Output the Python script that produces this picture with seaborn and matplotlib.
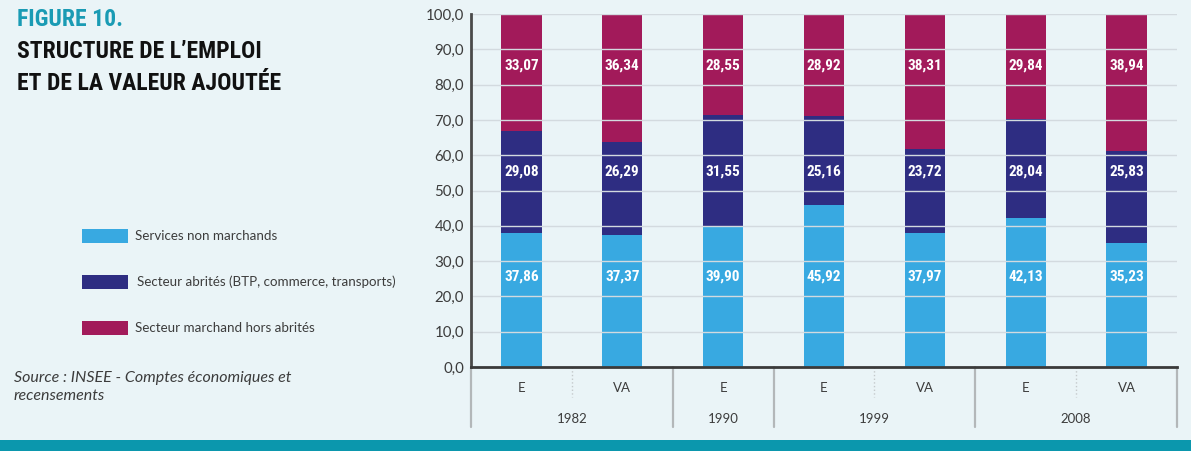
import matplotlib
matplotlib.use("Agg")
import matplotlib.pyplot as plt
import seaborn as sns
import pandas as pd
import numpy as np
from matplotlib.patches import Rectangle
from matplotlib.transforms import blended_transform_factory
from matplotlib import font_manager

# ---------------- data ----------------
years = ["1982", "1982", "1990", "1999", "1999", "2008", "2008"]
kinds = ["E", "VA", "E", "E", "VA", "E", "VA"]
services = [37.86, 37.37, 39.90, 45.92, 37.97, 42.13, 35.23]
abrites = [29.08, 26.29, 31.55, 25.16, 23.72, 28.04, 25.83]
marchand = [33.07, 36.34, 28.55, 28.92, 38.31, 29.84, 38.94]
series_names = ["Services non marchands",
                "Secteur abrités (BTP, commerce, transports)",
                "Secteur marchand hors abrités"]
yticks = [0, 10, 20, 30, 40, 50, 60, 70, 80, 90, 100]
year_groups = ["1982", "1990", "1999", "2008"]

# ---------------- fonts ----------------
names = {f.name for f in font_manager.fontManager.ttflist}
narrow = None
for cand in ["Roboto Condensed", "Liberation Sans Narrow", "Open Sans Condensed",
             "DejaVu Sans Condensed"]:
    if cand in names:
        narrow = cand
        break
if narrow is None:
    narrow = "Liberation Sans"
    narrow_stretch = "normal"
else:
    narrow_stretch = "condensed"

# ---------------- style ----------------
BG = "#eaf4f7"
C_LIGHT = "#38a9e1"
C_DARK = "#2e2d82"
C_MAG = "#a21a5a"
TEXT = "#3c3c3c"

sns.set_style("white")
plt.rcParams["font.family"] = ["Lato", "DejaVu Sans"]

W, H = 1191, 451
fig = plt.figure(figsize=(W / 100, H / 100), dpi=100, facecolor=BG)
ax = fig.add_axes([471 / W, 1 - 367 / H, (1177 - 471) / W, (367 - 14) / H])
ax.set_facecolor(BG)

cats = [f"{y} {k}" for y, k in zip(years, kinds)]
df = pd.DataFrame({"cat": cats, "services": services,
                   "abrites": abrites, "marchand": marchand})
df["c1"] = df["services"]
df["c2"] = df["services"] + df["abrites"]
df["c3"] = df["c2"] + df["marchand"]

for col, color in [("c3", C_MAG), ("c2", C_DARK), ("c1", C_LIGHT)]:
    sns.barplot(data=df, x="cat", y=col, order=cats, color=color, width=0.4,
                saturation=1, linewidth=0, ax=ax, zorder=2)

ax.set_ylim(0, 100)
ax.set_xlim(-0.5, len(cats) - 0.5)
for v in yticks:
    ax.axhline(v, color="#d3dadf", lw=1, zorder=3)

for s in ["top", "right"]:
    ax.spines[s].set_visible(False)
ax.spines["left"].set_color("#4a4a4a")
ax.spines["left"].set_linewidth(2)
ax.spines["bottom"].set_color("#3a3a3a")
ax.spines["bottom"].set_linewidth(2)
ax.spines["bottom"].set_zorder(5)
ax.spines["left"].set_zorder(5)

ax.set_yticks(yticks)
ax.set_yticklabels([f"{v:.1f}".replace(".", ",") for v in yticks])
ax.tick_params(axis="y", length=0, pad=5, labelsize=10.8, labelcolor=TEXT)
ax.set_xticks([])
ax.set_xlabel("")
ax.set_ylabel("")

# value labels (fixed heights per series, as in the original)
label_levels = [25.5, 55.5, 85.5]
for vals, lvl in zip([services, abrites, marchand], label_levels):
    for i, v in enumerate(vals):
        ax.text(i, lvl, f"{v:.2f}".replace(".", ","), ha="center", va="center",
                color="white", fontsize=11, fontweight="bold",
                fontstretch=narrow_stretch, family=[narrow, "DejaVu Sans"],
                zorder=6)

# category axis labels
trans = blended_transform_factory(ax.transData, ax.transAxes)
for i, k in enumerate(kinds):
    ax.text(i, -0.06, k, transform=trans, ha="center", va="center",
            fontsize=9.5, color=TEXT)
positions = {}
for i, y in enumerate(years):
    positions.setdefault(y, []).append(i)
for y in year_groups:
    ax.text(np.mean(positions[y]), -0.148, y, transform=trans, ha="center",
            va="center", fontsize=9.5, color=TEXT)

# separators
solid = [-0.5]
dotted = []
for y in year_groups:
    p = positions[y]
    solid.append(p[-1] + 0.5)
    if len(p) > 1:
        dotted.append(p[0] + 0.5)
for x in solid:
    ax.plot([x, x], [0, -0.17], transform=trans, clip_on=False,
            color="#b3b7b9", lw=1.6, zorder=1)
for x in dotted:
    ax.plot([x, x], [0, -0.085], transform=trans, clip_on=False,
            color="#c4c9cb", lw=1, ls=":", zorder=1)

# title
title_kw = dict(fontsize=17, fontweight="bold", fontstretch=narrow_stretch,
                family=[narrow, "DejaVu Sans"], va="center")
fig.text(17 / W, 1 - 20 / H, "FIGURE 10.", color="#1a9bb4", **title_kw)
fig.text(17 / W, 1 - 52 / H, "STRUCTURE DE L’EMPLOI", color="#111111", **title_kw)
fig.text(17 / W, 1 - 84 / H, "ET DE LA VALEUR AJOUTÉE", color="#111111", **title_kw)

# legend
leg_y = [236, 282, 328]
leg_x = [135, 137, 135]
for name, color, yy, xx in zip(series_names, [C_LIGHT, C_DARK, C_MAG], leg_y, leg_x):
    fig.add_artist(Rectangle((82 / W, 1 - (yy + 7) / H), 46 / W, 14 / H,
                             transform=fig.transFigure, color=color, lw=0))
    fig.text(xx / W, 1 - yy / H, name, fontsize=9.6, color=TEXT, va="center")

# source
fig.text(14 / W, 1 - 378 / H, "Source : INSEE - Comptes économiques et",
         fontsize=11.5, style="italic", color=TEXT, va="center")
fig.text(14 / W, 1 - 396 / H, "recensements",
         fontsize=11.5, style="italic", color=TEXT, va="center")

# bottom band
fig.add_artist(Rectangle((0, 0), 1, 11 / H, transform=fig.transFigure,
                         color="#0b97ad", lw=0))

fig.savefig("out.png", dpi=100, facecolor=BG)
